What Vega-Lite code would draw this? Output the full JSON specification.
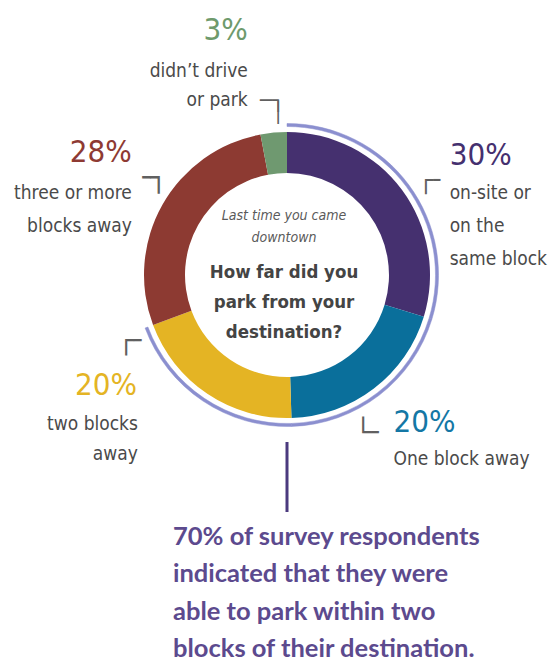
{
  "$schema": "https://vega.github.io/schema/vega-lite/v6.json",
  "width": 534,
  "height": 550,
  "autosize": "none",
  "padding": {"left": 20, "top": 0, "right": 0, "bottom": 113},
  "background": "white",
  "config": {"view": {"stroke": null}},
  "data": {"values": [
    {"ord": 1, "cat": "on-site or on the same block", "value": 30, "pct": "30%", "label": "on-site or\non the\nsame block"},
    {"ord": 2, "cat": "One block away", "value": 20, "pct": "20%", "label": "One block away"},
    {"ord": 3, "cat": "two blocks away", "value": 20, "pct": "20%", "label": "two blocks\naway"},
    {"ord": 4, "cat": "three or more blocks away", "value": 28, "pct": "28%", "label": "three or more\nblocks away"},
    {"ord": 5, "cat": "didn’t drive or park", "value": 3, "pct": "3%", "label": "didn’t drive\nor park"}
  ]},
  "layer": [
    {
      "mark": {"type": "arc", "innerRadius": 102, "outerRadius": 143},
      "encoding": {
        "theta": {"field": "value", "type": "quantitative", "stack": true},
        "order": {"field": "ord", "type": "quantitative"},
        "color": {"field": "cat", "type": "nominal", "legend": null,
          "scale": {"domain": ["on-site or on the same block", "One block away", "two blocks away", "three or more blocks away", "didn’t drive or park"],
                    "range": ["#45306f", "#0a6f9b", "#e4b424", "#8d3a32", "#6f9970"]}}
      }
    },
    {
      "mark": {"type": "arc", "innerRadius": 148.5, "outerRadius": 151.5, "color": "#8b8fcf", "stroke": "#8b8fcf", "strokeWidth": 0.5},
      "encoding": {
        "theta": {"field": "value", "type": "quantitative", "stack": true},
        "order": {"field": "ord", "type": "quantitative"},
        "opacity": {"condition": {"test": "datum.ord <= 3", "value": 1}, "value": 0}
      }
    },
    {
      "transform": [{"filter": "datum.ord === 1"}],
      "mark": {"type": "arc", "innerRadius": 167, "outerRadius": 237, "fillOpacity": 0, "stroke": "#4b3a7e", "strokeWidth": 3},
      "encoding": {
        "theta": {"datum": 50.5, "type": "quantitative"},
        "theta2": {"datum": 50.5}
      }
    },
    {
      "mark": {"type": "text", "radius": 185, "dx": 14, "dy": 0, "align": "left", "baseline": "alphabetic", "font": "DejaVu Sans Condensed, Roboto, sans-serif", "fontSize": 31, "color": "#45306f"},
      "encoding": {
        "theta": {"field": "value", "type": "quantitative", "stack": true},
        "order": {"field": "ord", "type": "quantitative"},
        "text": {"condition": {"test": "datum.ord === 1", "field": "pct", "type": "nominal"}, "value": ""}
      }
    },
    {
      "mark": {"type": "text", "radius": 185, "dx": -6, "dy": 10, "align": "left", "baseline": "alphabetic", "font": "DejaVu Sans Condensed, Roboto, sans-serif", "fontSize": 31, "color": "#1477a5"},
      "encoding": {
        "theta": {"field": "value", "type": "quantitative", "stack": true},
        "order": {"field": "ord", "type": "quantitative"},
        "text": {"condition": {"test": "datum.ord === 2", "field": "pct", "type": "nominal"}, "value": ""}
      }
    },
    {
      "mark": {"type": "text", "radius": 185, "dx": -47, "dy": -34, "align": "right", "baseline": "alphabetic", "font": "DejaVu Sans Condensed, Roboto, sans-serif", "fontSize": 31, "color": "#e4b424"},
      "encoding": {
        "theta": {"field": "value", "type": "quantitative", "stack": true},
        "order": {"field": "ord", "type": "quantitative"},
        "text": {"condition": {"test": "datum.ord === 3", "field": "pct", "type": "nominal"}, "value": ""}
      }
    },
    {
      "mark": {"type": "text", "radius": 185, "dx": 6, "dy": -22, "align": "right", "baseline": "alphabetic", "font": "DejaVu Sans Condensed, Roboto, sans-serif", "fontSize": 31, "color": "#8e3a33"},
      "encoding": {
        "theta": {"field": "value", "type": "quantitative", "stack": true},
        "order": {"field": "ord", "type": "quantitative"},
        "text": {"condition": {"test": "datum.ord === 4", "field": "pct", "type": "nominal"}, "value": ""}
      }
    },
    {
      "mark": {"type": "text", "radius": 185, "dx": -22, "dy": -51, "align": "right", "baseline": "alphabetic", "font": "DejaVu Sans Condensed, Roboto, sans-serif", "fontSize": 31, "color": "#6e9a6c"},
      "encoding": {
        "theta": {"field": "value", "type": "quantitative", "stack": true},
        "order": {"field": "ord", "type": "quantitative"},
        "text": {"condition": {"test": "datum.ord === 5", "field": "pct", "type": "nominal"}, "value": ""}
      }
    },
    {
      "mark": {"type": "text", "radius": 185, "dx": 14, "dy": 34, "align": "left", "baseline": "alphabetic", "font": "DejaVu Sans Condensed, Roboto, sans-serif", "fontSize": 19, "lineHeight": 33, "lineBreak": "\n", "color": "#4a4a4a"},
      "encoding": {
        "theta": {"field": "value", "type": "quantitative", "stack": true},
        "order": {"field": "ord", "type": "quantitative"},
        "text": {"condition": {"test": "datum.ord === 1", "field": "label", "type": "nominal"}, "value": ""}
      }
    },
    {
      "mark": {"type": "text", "radius": 185, "dx": -6, "dy": 43, "align": "left", "baseline": "alphabetic", "font": "DejaVu Sans Condensed, Roboto, sans-serif", "fontSize": 19, "lineHeight": 33, "lineBreak": "\n", "color": "#4a4a4a"},
      "encoding": {
        "theta": {"field": "value", "type": "quantitative", "stack": true},
        "order": {"field": "ord", "type": "quantitative"},
        "text": {"condition": {"test": "datum.ord === 2", "field": "label", "type": "nominal"}, "value": ""}
      }
    },
    {
      "mark": {"type": "text", "radius": 185, "dx": -46, "dy": 1, "align": "right", "baseline": "alphabetic", "font": "DejaVu Sans Condensed, Roboto, sans-serif", "fontSize": 19, "lineHeight": 30, "lineBreak": "\n", "color": "#4a4a4a"},
      "encoding": {
        "theta": {"field": "value", "type": "quantitative", "stack": true},
        "order": {"field": "ord", "type": "quantitative"},
        "text": {"condition": {"test": "datum.ord === 3", "field": "label", "type": "nominal"}, "value": ""}
      }
    },
    {
      "mark": {"type": "text", "radius": 185, "dx": 6, "dy": 15, "align": "right", "baseline": "alphabetic", "font": "DejaVu Sans Condensed, Roboto, sans-serif", "fontSize": 19, "lineHeight": 33, "lineBreak": "\n", "color": "#4a4a4a"},
      "encoding": {
        "theta": {"field": "value", "type": "quantitative", "stack": true},
        "order": {"field": "ord", "type": "quantitative"},
        "text": {"condition": {"test": "datum.ord === 4", "field": "label", "type": "nominal"}, "value": ""}
      }
    },
    {
      "mark": {"type": "text", "radius": 185, "dx": -22, "dy": -14, "align": "right", "baseline": "alphabetic", "font": "DejaVu Sans Condensed, Roboto, sans-serif", "fontSize": 19, "lineHeight": 29, "lineBreak": "\n", "color": "#4a4a4a"},
      "encoding": {
        "theta": {"field": "value", "type": "quantitative", "stack": true},
        "order": {"field": "ord", "type": "quantitative"},
        "text": {"condition": {"test": "datum.ord === 5", "field": "label", "type": "nominal"}, "value": ""}
      }
    },
    {
      "mark": {"type": "text", "radius": 185, "dx": 14.3, "dy": 16.1, "align": "right", "baseline": "alphabetic", "font": "DejaVu Sans Mono", "fontSize": 20, "lineHeight": 11.6, "lineBreak": "\n", "color": "#606060"},
      "encoding": {
        "theta": {"field": "value", "type": "quantitative", "stack": true},
        "order": {"field": "ord", "type": "quantitative"},
        "text": {"condition": {"test": "datum.ord === 5", "value": "─┐\n│"}, "value": ""}
      }
    },
    {
      "mark": {"type": "text", "radius": 185, "dx": 41.6, "dy": 2.6, "align": "right", "baseline": "alphabetic", "font": "DejaVu Sans Mono", "fontSize": 28, "color": "#606060"},
      "encoding": {
        "theta": {"field": "value", "type": "quantitative", "stack": true},
        "order": {"field": "ord", "type": "quantitative"},
        "text": {"condition": {"test": "datum.ord === 4", "value": "╶┐"}, "value": ""}
      }
    },
    {
      "mark": {"type": "text", "radius": 185, "dx": -16.9, "dy": 23.4, "align": "left", "baseline": "alphabetic", "font": "DejaVu Sans Mono", "fontSize": 24, "color": "#606060"},
      "encoding": {
        "theta": {"field": "value", "type": "quantitative", "stack": true},
        "order": {"field": "ord", "type": "quantitative"},
        "text": {"condition": {"test": "datum.ord === 1", "value": "┌╴"}, "value": ""}
      }
    },
    {
      "mark": {"type": "text", "radius": 185, "dx": -65.7, "dy": -79.6, "align": "left", "baseline": "alphabetic", "font": "DejaVu Sans Mono", "fontSize": 26, "color": "#606060"},
      "encoding": {
        "theta": {"field": "value", "type": "quantitative", "stack": true},
        "order": {"field": "ord", "type": "quantitative"},
        "text": {"condition": {"test": "datum.ord === 3", "value": "┌╴"}, "value": ""}
      }
    },
    {
      "mark": {"type": "text", "radius": 185, "dx": -44.2, "dy": 19.1, "align": "left", "baseline": "alphabetic", "font": "DejaVu Sans Mono", "fontSize": 26, "color": "#606060"},
      "encoding": {
        "theta": {"field": "value", "type": "quantitative", "stack": true},
        "order": {"field": "ord", "type": "quantitative"},
        "text": {"condition": {"test": "datum.ord === 2", "value": "└╴"}, "value": ""}
      }
    },
    {
      "transform": [{"filter": "datum.ord === 1"}],
      "mark": {"type": "text", "radius": 0, "dx": -3, "dy": -55, "align": "center", "baseline": "alphabetic", "font": "DejaVu Sans Condensed, Roboto, sans-serif", "fontStyle": "italic", "fontWeight": 300, "fontSize": 14, "lineHeight": 22, "lineBreak": "\n", "color": "#5a5a5a"},
      "encoding": {
        "theta": {"datum": 0, "type": "quantitative"},
        "text": {"value": "Last time you came\ndowntown"}
      }
    },
    {
      "transform": [{"filter": "datum.ord === 1"}],
      "mark": {"type": "text", "radius": 0, "dx": -3, "dy": 3, "align": "center", "baseline": "alphabetic", "font": "DejaVu Sans Condensed, Roboto, sans-serif", "fontWeight": "bold", "fontSize": 18.5, "lineHeight": 30, "lineBreak": "\n", "color": "#444444"},
      "encoding": {
        "theta": {"datum": 0, "type": "quantitative"},
        "text": {"value": "How far did you\npark from your\ndestination?"}
      }
    },
    {
      "transform": [{"filter": "datum.ord === 1"}],
      "mark": {"type": "text", "radius": 270, "dx": -114, "dy": 0, "align": "left", "baseline": "alphabetic", "font": "Lato", "fontWeight": "bold", "fontSize": 25.5, "lineHeight": 37.3, "lineBreak": "\n", "color": "#5c4a8e"},
      "encoding": {
        "theta": {"datum": 50.5, "type": "quantitative"},
        "text": {"value": "70% of survey respondents\nindicated that they were\nable to park within two\nblocks of their destination."}
      }
    }
  ]
}
